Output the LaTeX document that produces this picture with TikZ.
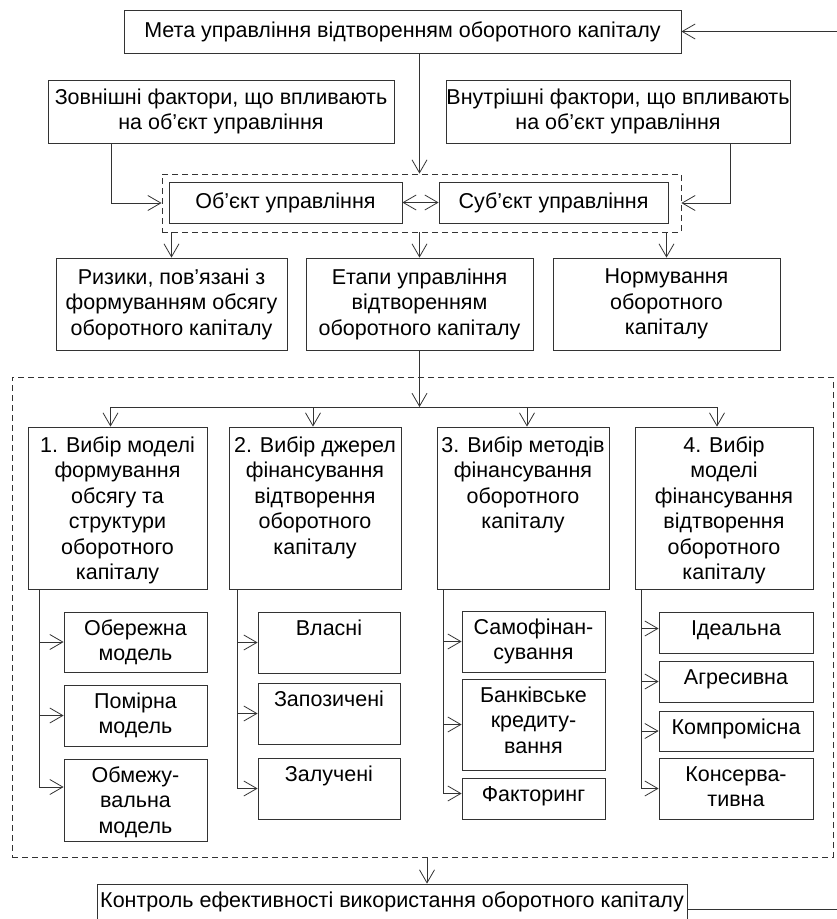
\documentclass[tikz,border=0pt]{standalone}
\usepackage{fontspec}
\setmainfont{Liberation Sans}
\usetikzlibrary{arrows.meta,calc}
\newcommand\fs{\fontsize{21.5}{25.5}\selectfont}
\newcommand\tbx[4]{\parbox[c][#2pt][t]{#1pt}{\centering\rule{0pt}{#3pt}#4\par}}
\begin{document}
\begin{tikzpicture}[x=1pt,y=-1pt,
  ln/.style={draw=black!80, line width=0.8pt},
  box/.style={ln, rectangle, inner sep=0pt, align=center, font=\fs},
  pbox/.style={ln, rectangle, inner sep=0pt, font=\fs},
  dbox/.style={draw=black!80, line width=0.8pt, dash pattern=on 6pt off 4pt, rectangle, inner sep=0pt},
  arr/.style={ln, -{Straight Barb[length=13pt,width=15pt]}},
  darr/.style={ln, {Straight Barb[length=13pt,width=15pt]}-{Straight Barb[length=13pt,width=15pt]}}]
\useasboundingbox (0,0) rectangle (837,919);
% dashed groups
\node[dbox, minimum width=519pt, minimum height=58pt] (dashA) at (421.5,203) {};
\node[dbox, minimum width=821pt, minimum height=480pt] (dashB) at (422.5,617) {};
% top
\node[box, minimum width=557pt, minimum height=43pt] (goal) at (402.5,31.5) {Мета управління відтворенням оборотного капіталу};
\node[box, minimum width=346pt, minimum height=63pt] (ext) at (221,111.5) {Зовнішні фактори, що впливають\\на об’єкт управління};
\node[box, minimum width=344pt, minimum height=63pt] (int) at (618,111.5) {Внутрішні фактори, що впливають\\на об’єкт управління};
\node[box, minimum width=233pt, minimum height=41pt] (obj) at (285.5,202.5) {Об’єкт управління};
\node[box, minimum width=229pt, minimum height=41pt] (subj) at (553.5,202.5) {Суб’єкт управління};
\node[box, minimum width=231pt, minimum height=92pt] (risk) at (171.5,304) {Ризики, пов’язані з\\формуванням обсягу\\оборотного капіталу};
\node[box, minimum width=227pt, minimum height=92pt] (stages) at (419.5,304) {Етапи управління\\відтворенням\\оборотного капіталу};
\node[box, minimum width=227pt, minimum height=92pt] (norm) at (666.5,304) {Нормування\\оборотного\\капіталу};
% four stages
\node[pbox] (b1) at (117.5,508) {\tbx{179}{162}{25}{1. Вибір моделі\\формування\\обсягу та\\структури\\оборотного\\капіталу}};
\node[pbox] (b2) at (315,508) {\tbx{172}{162}{25}{2. Вибір джерел\\фінансування\\відтворення\\оборотного\\капіталу}};
\node[pbox] (b3) at (523,508) {\tbx{172}{162}{25}{3. Вибір методів\\фінансування\\оборотного\\капіталу}};
\node[pbox] (b4) at (724,508) {\tbx{178}{162}{25}{4. Вибір\\моделі\\фінансування\\відтворення\\оборотного\\капіталу}};
% column 1
\node[pbox] (s11) at (135.5,642) {\tbx{143}{60}{23}{Обережна\\модель}};
\node[pbox] (s12) at (135.5,715.5) {\tbx{143}{61}{23}{Помірна\\модель}};
\node[pbox] (s13) at (135.5,800) {\tbx{143}{82}{23}{Обмежу-\\вальна\\модель}};
% column 2
\node[pbox] (s21) at (329,642.5) {\tbx{142}{61}{23}{Власні}};
\node[pbox] (s22) at (329,713.5) {\tbx{142}{61}{23}{Запозичені}};
\node[pbox] (s23) at (329,788.5) {\tbx{142}{61}{23}{Залучені}};
% column 3
\node[pbox] (s31) at (533.5,641.5) {\tbx{143}{61}{23}{Самофінан-\\сування}};
\node[pbox] (s32) at (533.5,724.5) {\tbx{143}{91}{23}{Банківське\\кредиту-\\вання}};
\node[pbox] (s33) at (533.5,798.5) {\tbx{143}{41}{23}{Факторинг}};
% column 4
\node[pbox] (s41) at (736,632.5) {\tbx{154}{41}{23}{Ідеальна}};
\node[pbox] (s42) at (736,681.5) {\tbx{154}{41}{23}{Агресивна}};
\node[pbox] (s43) at (736,731) {\tbx{154}{40}{23}{Компромісна}};
\node[pbox] (s44) at (736,788.5) {\tbx{154}{61}{23}{Консерва-\\тивна}};
% control
\node[pbox] (ctrl) at (392,909) {\tbx{590}{50}{23}{Контроль ефективності використання оборотного капіталу}};
% connectors top
\draw[arr] (goal.south -| stages.north) -- (dashA.north -| stages.north);
\draw[arr] ($(ext.south)+(-110,0)$) |- (dashA.west);
\draw[arr] ($(int.south)+(112,0)$) |- (dashA.east);
\draw[darr] (obj.east) -- (subj.west);
\foreach \n in {risk,stages,norm}{\draw[arr] (dashA.south -| \n.north) -- (\n.north);}
% stages to four boxes
\coordinate (hub) at (419.5,407);
\draw[arr] (stages.south) -- (hub);
\draw[ln] ($(b1.north|-hub)+(-7,0)$) -- ($(b4.north|-hub)+(-7,0)$);
\draw[arr] ($(b1.north|-hub)+(-7,0)$) -- ($(b1.north)+(-7,0)$);
\draw[arr] ($(b2.north|-hub)+(-2,0)$) -- ($(b2.north)+(-2,0)$);
\draw[arr] ($(b3.north|-hub)+(4,0)$) -- ($(b3.north)+(4,0)$);
\draw[arr] ($(b4.north|-hub)+(-7,0)$) -- ($(b4.north)+(-7,0)$);
% columns
\coordinate (v1) at ($(b1.south west)+(12,0)$);
\coordinate (v2) at ($(b2.south west)+(9,0)$);
\coordinate (v3) at ($(b3.south west)+(7,0)$);
\coordinate (v4) at ($(b4.south west)+(7,0)$);
\draw[arr] (v1) |- (s11.west);
\draw[arr] (v1) |- (s12.west);
\draw[arr] (v1) |- ($(s13.west)+(0,-13)$);
\draw[arr] (v2) |- (s21.west);
\draw[arr] (v2) |- (s22.west);
\draw[arr] (v2) |- (s23.west);
\draw[arr] (v3) |- (s31.west);
\draw[arr] (v3) |- (s32.west);
\draw[arr] (v3) |- ($(s33.west)+(0,-5)$);
\draw[arr] (v4) |- ($(s41.west)+(0,-4)$);
\draw[arr] (v4) |- (s42.west);
\draw[arr] (v4) |- (s43.west);
\draw[arr] (v4) |- (s44.west);
% bottom
\coordinate (d1) at ($(dashB.south)+(4.5,0)$);
\draw[arr] (d1) -- (d1 |- ctrl.north);
\coordinate (fb) at (850,909);
\draw[arr] (ctrl.east) -- (fb) |- (goal.east);
\end{tikzpicture}
\end{document}
